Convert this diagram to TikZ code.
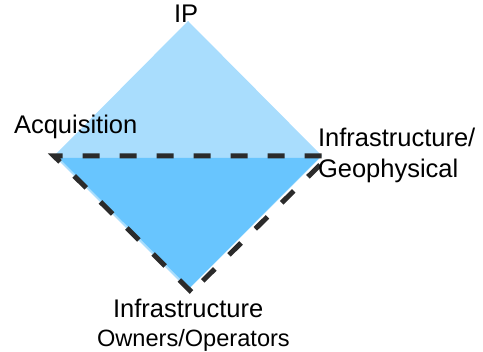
\documentclass[tikz,border=0pt]{standalone}
\usepackage{fontspec}
\setmainfont{Liberation Sans}
\definecolor{lightblue}{HTML}{A9DDFD}
\definecolor{darkblue}{HTML}{68C5FE}
\definecolor{dashgray}{HTML}{2B2B2B}
\begin{document}
\begin{tikzpicture}[x=1pt,y=-1pt,
  lbl/.style={inner sep=0pt,outer sep=0pt,anchor=base west,font=\fontsize{25.5pt}{30pt}\selectfont},
  sublbl/.style={inner sep=0pt,outer sep=0pt,anchor=base west,font=\fontsize{23.6pt}{28pt}\selectfont},
  dashtri/.style={draw=dashgray,line width=5pt,dash pattern=on 17pt off 20pt,line join=miter}]
\useasboundingbox (0,0) rectangle (483,352);
\coordinate (top) at (188,21);
\coordinate (left) at (54,156);
\coordinate (right) at (322,156);
\coordinate (bot) at (188,290);
\fill[lightblue] (top) -- (right) -- (bot) -- (left) -- cycle;
\fill[darkblue] (59,158) -- (319,158) -- (189.5,288) -- cycle;
\coordinate (dl) at (54,156);
\coordinate (dr) at (329,156);
\coordinate (db) at (191.5,292);
\draw[dashtri] (db) -- (dl) -- (dr) -- cycle;
\node[lbl] (ip) at (174,22.5) {IP};
\node[lbl] (acq) at (14,134) {Acquisition};
\node[lbl] (infgeo) at (318,146.5) {Infrastructure/};
\node[lbl] (geo) at (318,177.5) {Geophysical};
\node[lbl] (infown) at (113,318) {Infrastructure};
\node[sublbl] (own) at (97,346.5) {Owners/Operators};
\end{tikzpicture}
\end{document}
